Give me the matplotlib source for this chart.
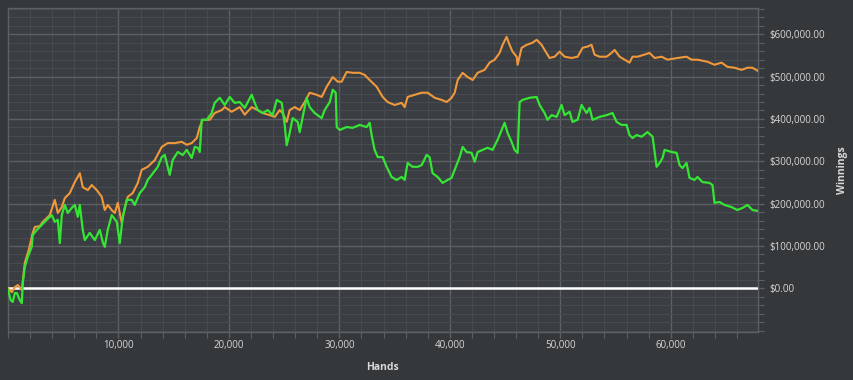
import matplotlib
matplotlib.use("Agg")
import matplotlib.pyplot as plt
from matplotlib.ticker import MultipleLocator, FuncFormatter

# hands (thousands) and winnings (thousands of $)
orange_hands = [0, 0.34, 0.62, 0.89, 1.25, 1.52, 1.88, 2.24, 2.43, 2.88, 3.15, 3.51, 3.78, 4.24, 4.51, 4.87,
                5.14, 5.59, 6.05, 6.50, 6.77, 7.22, 7.58, 8.04, 8.49, 8.76, 9.03, 9.39, 9.67, 9.94, 10.30,
                10.57, 10.84, 11.29, 11.75, 12.11, 12.65, 13.29, 13.92, 14.46, 15.10, 15.73, 16.19, 16.63,
                17.09, 17.36, 17.63, 18.26, 18.71, 19.35, 19.62, 20.25, 20.98, 21.43, 22.06, 22.61, 23.06,
                23.69, 24.15, 24.60, 24.87, 25.23, 25.50, 25.96, 26.41, 26.86, 27.31, 27.95, 28.40, 28.85,
                29.40, 29.85, 30.21, 30.66, 31.20, 31.84, 32.29, 32.74, 33.38, 33.92, 34.37, 35.00, 35.64,
                35.91, 36.18, 36.81, 37.45, 37.99, 38.63, 39.26, 39.71, 40.16, 40.44, 40.71, 41.16, 41.61,
                42.07, 42.52, 43.15, 43.60, 44.06, 44.51, 44.78, 45.14, 45.41, 45.68, 46.05, 46.14, 46.50,
                46.95, 47.49, 47.86, 48.31, 48.58, 49.03, 49.49, 49.94, 50.39, 51.02, 51.57, 52.02, 52.47,
                52.83, 53.10, 53.56, 54.19, 54.64, 54.92, 55.37, 55.82, 56.27, 56.54, 57.00, 57.63, 58.08,
                58.54, 59.17, 59.71, 60.62, 61.43, 61.88, 62.42, 63.33, 63.96, 64.60, 65.14, 65.77, 66.41,
                66.95, 67.40, 67.86]
orange_win = [0, -9, 3, 8, -4, 60, 91, 131, 145, 147, 157, 166, 173, 209, 178, 192,
              213, 225, 251, 272, 239, 232, 244, 232, 216, 185, 197, 185, 178, 202, 154,
              190, 216, 225, 249, 280, 287, 303, 334, 343, 343, 346, 339, 343,
              355, 381, 398, 398, 414, 421, 428, 417, 428, 410, 428, 421, 414,
              409, 405, 421, 414, 393, 421, 428, 421, 440, 462, 457, 452, 476,
              499, 488, 488, 511, 509, 509, 504, 492, 476, 452, 440, 433, 438,
              428, 452, 457, 462, 462, 450, 445, 440, 450, 462, 492, 509, 499,
              492, 509, 516, 533, 540, 556, 575, 594, 575, 559, 547, 528, 568,
              575, 580, 587, 575, 563, 544, 547, 559, 547, 544, 547, 568, 571,
              575, 552, 547, 547, 556, 563, 547, 540, 533, 547, 547, 552, 556,
              544, 547, 540, 544, 547, 540, 540, 535, 528, 533, 523, 521, 516,
              521, 521, 514]

green_hands = [0, 0.25, 0.43, 0.62, 0.80, 1.07, 1.25, 1.34, 1.52, 1.79, 2.15, 2.24, 2.61, 3.06, 3.51, 3.96,
               4.24, 4.51, 4.69, 4.87, 5.14, 5.41, 5.77, 6.05, 6.32, 6.50, 6.77, 6.95, 7.40, 7.86, 8.31,
               8.58, 8.76, 9.03, 9.39, 9.85, 10.12, 10.39, 10.75, 11.20, 11.47, 11.93, 12.38, 12.65, 13.01,
               13.56, 13.92, 14.19, 14.64, 14.91, 15.37, 15.82, 16.18, 16.63, 16.91, 17.18, 17.36, 17.54,
               17.99, 18.44, 18.71, 19.17, 19.62, 20.07, 20.52, 20.98, 21.43, 22.06, 22.34, 22.61, 23.06,
               23.51, 23.96, 24.33, 24.78, 25.05, 25.23, 25.50, 25.77, 26.23, 26.41, 26.68, 27.04, 27.31,
               27.76, 28.40, 28.67, 29.13, 29.40, 29.67, 29.76, 30.03, 30.66, 31.20, 31.84, 32.47, 32.74,
               32.92, 33.19, 33.47, 33.92, 34.28, 34.73, 35.18, 35.64, 35.91, 36.18, 36.63, 37.09, 37.45,
               37.90, 38.17, 38.44, 38.90, 39.35, 39.80, 40.16, 40.44, 40.89, 41.16, 41.52, 41.97, 42.25,
               42.52, 42.97, 43.42, 43.87, 44.33, 44.69, 44.96, 45.23, 45.59, 45.86, 46.14, 46.32, 46.59,
               47.22, 47.86, 48.13, 48.58, 48.85, 49.21, 49.67, 50.12, 50.39, 50.84, 51.11, 51.57, 51.93,
               52.38, 52.65, 52.92, 53.56, 54.19, 54.73, 55.10, 55.55, 56.00, 56.27, 56.54, 56.91, 57.36,
               57.90, 58.36, 58.54, 58.72, 58.99, 59.26, 59.44, 60.07, 60.53, 60.80, 61.07, 61.43, 61.70,
               62.15, 62.42, 62.88, 63.51, 63.78, 63.96, 64.42, 64.87, 65.50, 66.04, 66.50, 66.95, 67.40,
               67.86]
green_win = [-4, -28, -32, -11, -11, -28, -35, 13, 50, 74, 98, 126, 138, 150, 162, 173,
             157, 162, 107, 173, 197, 178, 190, 197, 169, 197, 138, 114, 131, 114, 138,
             109, 98, 138, 173, 157, 107, 169, 209, 209, 197, 225, 239, 256, 268,
             287, 310, 315, 268, 303, 322, 315, 327, 308, 334, 332, 322, 398,
             398, 414, 438, 450, 433, 452, 438, 440, 426, 457, 438, 421, 414,
             421, 409, 445, 438, 386, 338, 367, 402, 393, 369, 405, 450, 428,
             414, 402, 421, 440, 469, 462, 381, 374, 381, 379, 386, 381, 391,
             362, 327, 310, 310, 287, 263, 256, 263, 256, 296, 287, 287, 291,
             315, 310, 272, 263, 249, 256, 261, 280, 310, 334, 322, 320, 299,
             322, 327, 332, 327, 351, 374, 391, 367, 346, 327, 320, 440, 445,
             450, 452, 433, 414, 398, 409, 405, 433, 409, 417, 393, 398, 433,
             414, 426, 398, 405, 409, 414, 393, 386, 386, 362, 355, 362, 358,
             369, 358, 322, 287, 296, 308, 327, 322, 320, 291, 284, 296, 261,
             256, 263, 251, 249, 244, 202, 204, 197, 192, 185, 190, 197, 185,
             183]

x_ticks = [10000, 20000, 30000, 40000, 50000, 60000]
y_ticks = [0, 100000, 200000, 300000, 400000, 500000, 600000]

FIG_BG = "#35383b"
AX_BG = "#3a3d41"
TXT = "#d8d8d8"

plt.rcParams['font.family'] = ['Open Sans', 'DejaVu Sans']

fig = plt.figure(figsize=(8.54, 3.8), dpi=100, facecolor=FIG_BG)
ax = fig.add_axes([8 / 854, 1 - 332 / 380, 750 / 854, 324 / 380])
ax.set_facecolor(AX_BG)

ax.set_xlim(0, 67900)
ax.set_ylim(-103000, 662000)

ax.xaxis.set_major_locator(MultipleLocator(10000))
ax.xaxis.set_minor_locator(MultipleLocator(2000))
ax.yaxis.set_major_locator(MultipleLocator(100000))
ax.yaxis.set_minor_locator(MultipleLocator(20000))
ax.set_xticks(x_ticks)
ax.set_yticks(y_ticks)

ax.grid(which='major', color='#5c5f63', linewidth=1.0)
ax.grid(which='minor', color='#474a4e', linewidth=0.8)
ax.set_axisbelow(True)

for s in ax.spines.values():
    s.set_color('#5c5f63')
    s.set_linewidth(1.0)

ax.yaxis.tick_right()
ax.yaxis.set_label_position('right')
ax.xaxis.set_major_formatter(FuncFormatter(lambda v, p: f"{int(v):,}"))
ax.yaxis.set_major_formatter(FuncFormatter(lambda v, p: f"${v:,.2f}"))
ax.tick_params(axis='both', which='both', colors='#5c5f63', labelcolor=TXT, labelsize=7)
ax.tick_params(axis='both', which='major', length=4, width=1)
ax.tick_params(axis='both', which='minor', length=4, width=0.8)
ax.tick_params(axis='y', pad=4)
ax.tick_params(axis='x', pad=2)

ax.set_xlabel("Hands", color=TXT, fontsize=7.5, fontweight='bold', labelpad=8)
ax.set_ylabel("Winnings", color=TXT, fontsize=7.5, fontweight='bold', labelpad=9)

ax.axhline(0, color='white', linewidth=1.8, zorder=3)
ax.plot([h * 1000 for h in orange_hands], [w * 1000 for w in orange_win],
        color='#f0993c', linewidth=1.5, zorder=4)
ax.plot([h * 1000 for h in green_hands], [w * 1000 for w in green_win],
        color='#35e535', linewidth=1.6, zorder=5)

fig.savefig("out.png", dpi=100, facecolor=FIG_BG)
